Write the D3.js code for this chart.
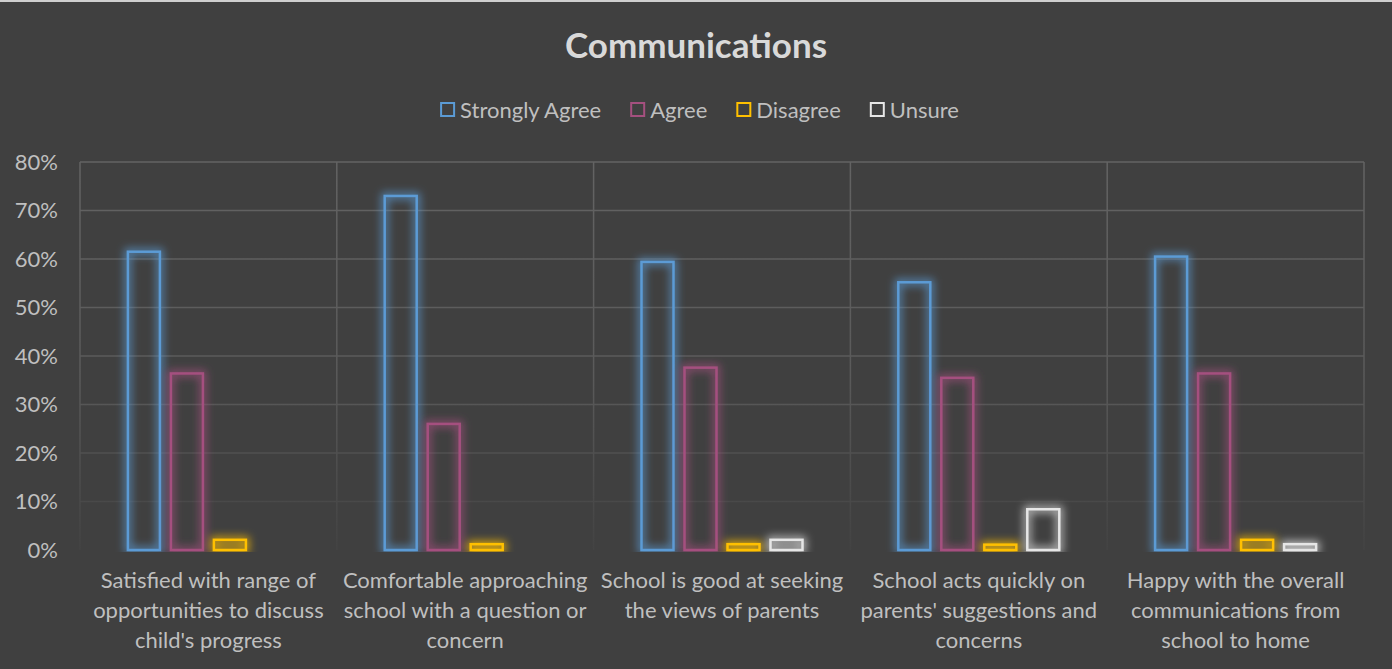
<!DOCTYPE html>
<html>
<head>
<meta charset="utf-8">
<script src="https://cdn.jsdelivr.net/npm/d3@7"></script>
<style>
  html, body { margin: 0; padding: 0; background: #404040; }
  svg { display: block; }
  text { font-family: Lato, "Open Sans", sans-serif; }
</style>
</head>
<body>
<svg id="chart" width="1392" height="669"></svg>
<script>
// ---- data ----
const categories = [
  "Satisfied with range of opportunities to discuss child's progress",
  "Comfortable approaching school with a question or concern",
  "School is good at seeking the views of parents",
  "School acts quickly on parents' suggestions and concerns",
  "Happy with the overall communications from school to home"
];
const categoryLines = [
  ["Satisfied with range of", "opportunities to discuss", "child's progress"],
  ["Comfortable approaching", "school with a question or", "concern"],
  ["School is good at seeking", "the views of parents"],
  ["School acts quickly on", "parents' suggestions and", "concerns"],
  ["Happy with the overall", "communications from", "school to home"]
];
const seriesNames = ["Strongly Agree", "Agree", "Disagree", "Unsure"];
const stronglyAgree = [0.615, 0.730, 0.594, 0.552, 0.605];
const agree         = [0.364, 0.260, 0.376, 0.355, 0.364];
const disagree      = [0.021, 0.012, 0.012, 0.011, 0.021];
const unsure        = [0.000, 0.000, 0.021, 0.084, 0.012];
const yTicks = [0, 0.1, 0.2, 0.3, 0.4, 0.5, 0.6, 0.7, 0.8];
const seriesColors = ["#5B9BD5", "#A5507F", "#FFC000", "#E6E6E6"];

const seriesValues = [stronglyAgree, agree, disagree, unsure];

// ---- layout ----
const W = 1392, H = 669;
const plot = { left: 80, right: 1364, top: 162, bottom: 550 };

const svg = d3.select("#chart");

svg.append("rect").attr("width", W).attr("height", H).attr("fill", "#404040");
svg.append("rect").attr("width", W).attr("height", 2).attr("fill", "#cfcfcf");

const defs = svg.append("defs");
const grad = defs.append("linearGradient")
  .attr("id", "gridGrad").attr("gradientUnits", "userSpaceOnUse")
  .attr("x1", 0).attr("y1", plot.top).attr("x2", 0).attr("y2", plot.bottom);
grad.append("stop").attr("offset", "0").attr("stop-color", "#636363");
grad.append("stop").attr("offset", "0.55").attr("stop-color", "#5a5a5a");
grad.append("stop").attr("offset", "1").attr("stop-color", "#434343");

const glow = defs.append("filter").attr("id", "glow")
  .attr("filterUnits", "userSpaceOnUse")
  .attr("x", 0).attr("y", 0).attr("width", W).attr("height", H);
glow.append("feMorphology").attr("in", "SourceGraphic").attr("operator", "dilate").attr("radius", 2).attr("result", "d");
glow.append("feGaussianBlur").attr("in", "d").attr("stdDeviation", 4).attr("result", "b");
glow.append("feComponentTransfer").attr("in", "b").attr("result", "bt")
  .append("feFuncA").attr("type", "linear").attr("slope", 0.75);
const fm = glow.append("feMerge");
fm.append("feMergeNode").attr("in", "bt");
fm.append("feMergeNode").attr("in", "SourceGraphic");

defs.append("clipPath").attr("id", "plotClip")
  .append("rect").attr("x", 0).attr("y", 0).attr("width", W).attr("height", plot.bottom + 2);

// scales
const y = d3.scaleLinear().domain([0, 0.8]).range([plot.bottom, plot.top]);
const x0 = d3.scaleBand().domain(categories).range([plot.left, plot.right]).padding(0);
const bw = x0.bandwidth();
const groupW = bw * 161 / 256.8;
const gOff = (bw - groupW) / 2;
const x1 = d3.scaleBand().domain(seriesNames).range([gOff, gOff + groupW])
  .paddingInner(11 / 43).paddingOuter(0);

// title
svg.append("text")
  .attr("x", 696).attr("y", 58)
  .attr("text-anchor", "middle")
  .attr("font-size", 35).attr("font-weight", "bold")
  .attr("fill", "#d9d9d9")
  .text("Communications");

// legend
const legend = svg.append("g");
const legendItems = legend.selectAll("g.item").data(seriesNames).enter().append("g").attr("class", "item");
legendItems.append("rect")
  .attr("width", 13).attr("height", 13)
  .attr("fill", "none").attr("stroke-width", 2)
  .attr("stroke", (d, i) => seriesColors[i]);
legendItems.append("text")
  .attr("x", 19).attr("y", 7)
  .attr("dy", "0.35em")
  .attr("font-size", 22).attr("fill", "#bfbfbf")
  .text(d => d);
let lx = 0;
const gaps = 30;
legendItems.each(function () {
  const tw = d3.select(this).select("text").node().getComputedTextLength();
  this.__x = lx;
  lx += 19 + tw + gaps;
});
const totalW = lx - gaps;
const legendStart = 700 - totalW / 2;
legendItems.attr("transform", function () { return `translate(${legendStart + this.__x},${103})`; });

// gridlines
const grid = svg.append("g");
grid.selectAll("line.h").data(yTicks.slice(1)).enter().append("line")
  .attr("x1", plot.left).attr("x2", plot.right)
  .attr("y1", d => y(d)).attr("y2", d => y(d))
  .attr("stroke", "url(#gridGrad)").attr("stroke-width", 1.5);
const vlines = [plot.left].concat(categories.map(c => x0(c) + bw));
grid.selectAll("line.v").data(vlines).enter().append("line")
  .attr("x1", d => d).attr("x2", d => d)
  .attr("y1", plot.top).attr("y2", plot.bottom)
  .attr("stroke", "url(#gridGrad)").attr("stroke-width", 1.5);

// y axis
const yAxis = d3.axisLeft(y).tickValues(yTicks).tickFormat(d3.format(".0%")).tickSize(0).tickPadding(0);
const yg = svg.append("g").attr("transform", `translate(${plot.left - 22},0)`).call(yAxis);
yg.select(".domain").remove();
yg.selectAll("text").attr("font-size", 22).attr("fill", "#bfbfbf").attr("font-family", "Lato, 'Open Sans', sans-serif");

// bars
const bars = svg.append("g").attr("clip-path", "url(#plotClip)");
categories.forEach((cat, ci) => {
  const g = bars.append("g").attr("transform", `translate(${x0(cat)},0)`);
  const data = seriesNames.map((s, si) => ({ s, si, v: seriesValues[si][ci] })).filter(d => d.v > 0);
  g.selectAll("rect").data(data).enter().append("rect")
    .attr("x", d => x1(d.s))
    .attr("y", d => y(d.v))
    .attr("width", x1.bandwidth())
    .attr("height", d => y(0) - y(d.v))
    .attr("fill", "none")
    .attr("stroke", d => seriesColors[d.si])
    .attr("stroke-width", 2.5)
    .attr("filter", "url(#glow)");
});

// x labels
const xl = svg.append("g");
categories.forEach((cat, ci) => {
  const t = xl.append("text")
    .attr("x", x0(cat) + bw / 2)
    .attr("y", 588)
    .attr("text-anchor", "middle")
    .attr("font-size", 22).attr("fill", "#bfbfbf");
  categoryLines[ci].forEach((ln, li) => {
    t.append("tspan").attr("x", x0(cat) + bw / 2).attr("dy", li === 0 ? 0 : 30).text(ln);
  });
});
</script>
</body>
</html>
